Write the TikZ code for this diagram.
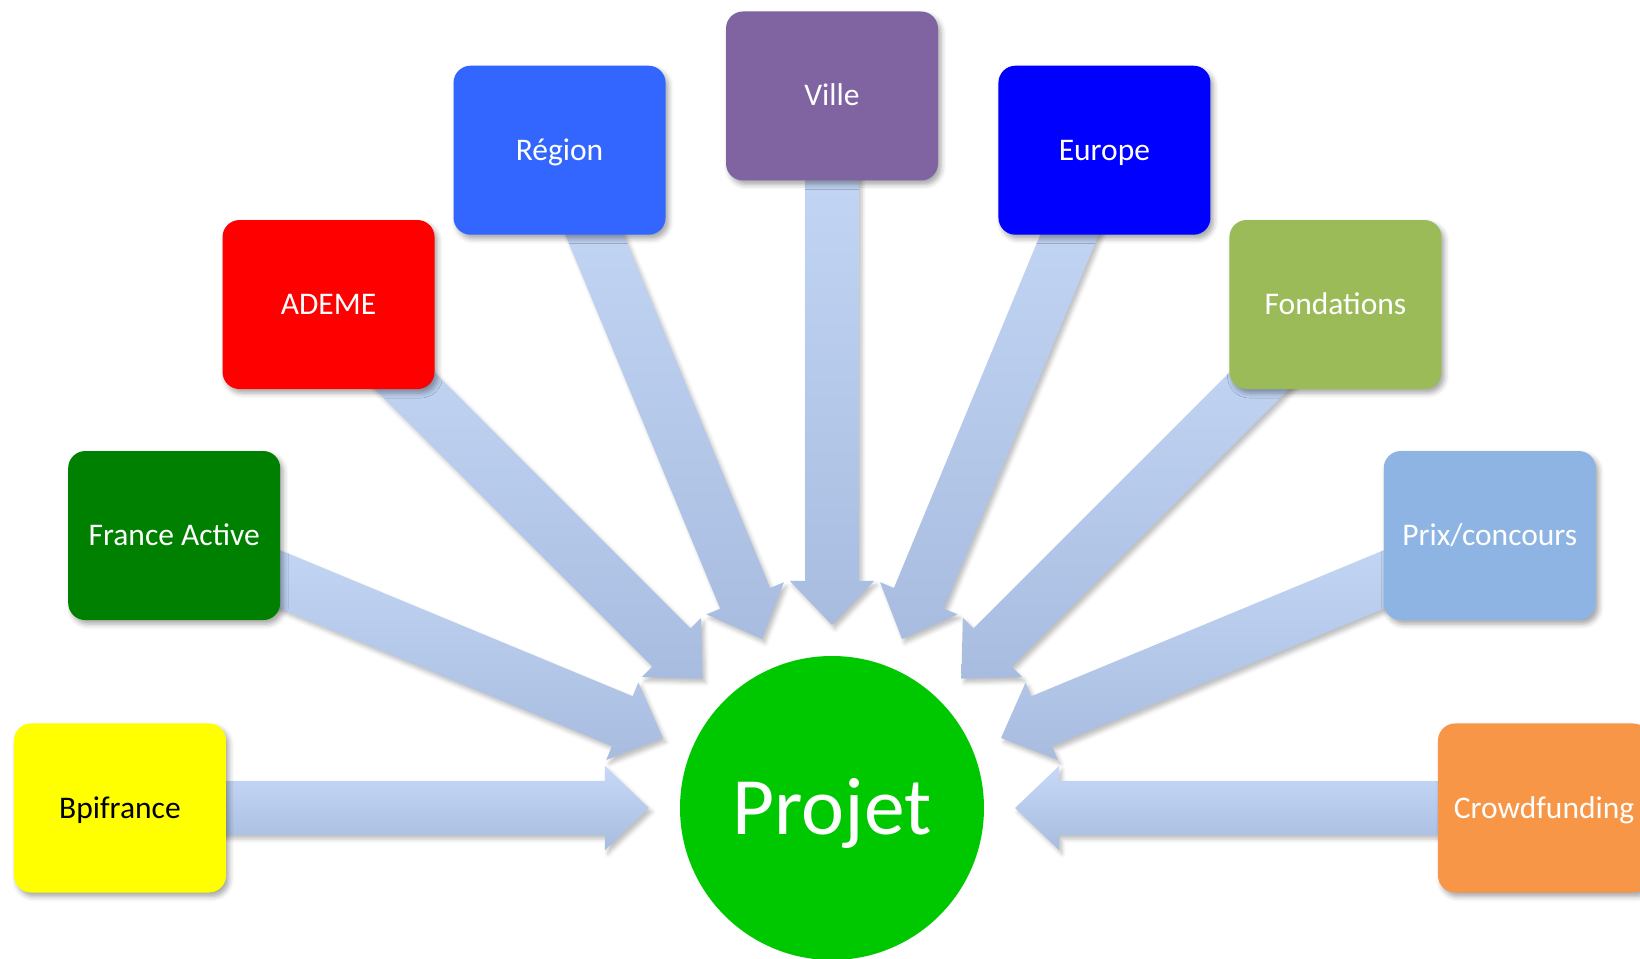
\documentclass[tikz,border=0pt]{standalone}
\usepackage{fontspec}
\setmainfont{Carlito}
\usetikzlibrary{shadows,shadows.blur}
\pgfdeclarelayer{background}
\pgfsetlayers{background,main}
\definecolor{arrlight}{RGB}{198,217,247}
\definecolor{arrdark}{RGB}{168,188,224}
\definecolor{cbpi}{RGB}{255,255,0}
\definecolor{cfa}{RGB}{0,128,0}
\definecolor{cademe}{RGB}{255,0,0}
\definecolor{cregion}{RGB}{51,102,255}
\definecolor{cville}{RGB}{128,100,162}
\definecolor{ceurope}{RGB}{0,0,255}
\definecolor{cfond}{RGB}{155,187,89}
\definecolor{cprix}{RGB}{141,180,226}
\definecolor{ccrowd}{RGB}{247,150,70}
\definecolor{cprojet}{RGB}{0,200,0}
\tikzset{
  box/.style={rounded corners=17, minimum width=212, minimum height=169,
    inner sep=0pt, text=white, font=\fontsize{31.5}{37}\selectfont,
    text height=20pt, text depth=0pt,
    blur shadow={shadow xshift=3pt, shadow yshift=-4pt,
      shadow blur radius=5pt, shadow opacity=35}},
  arrowfill/.style={top color=arrlight, bottom color=arrdark,
    blur shadow={shadow xshift=3pt, shadow yshift=-4pt,
      shadow blur radius=4pt, shadow opacity=25}},
  blockarrow/.pic={
    \path[arrowfill] (0,-27) -- (485,-27) -- (485,-42) -- (529,0)
      -- (485,42) -- (485,27) -- (0,27) -- cycle;}
}
\begin{document}
\begin{tikzpicture}[x=1pt,y=1pt]
\useasboundingbox (-832,-150) rectangle (808,808);
\clip (-832,-150) rectangle (808,808);

\node[box, fill=cbpi, text=black] (bpi) at (180:712) {Bpifrance};
\node[box, fill=cfa] (fa) at (157.5:712) {France Active};
\node[box, fill=cademe] (ademe) at (135:712) {ADEME};
\node[box, fill=cregion] (region) at (112.5:712) {Région};
\node[box, fill=cville] (ville) at (90:712) {Ville};
\node[box, fill=ceurope] (europe) at (67.5:712) {Europe};
\node[box, fill=cfond] (fond) at (45:712) {Fondations};
\node[box, fill=cprix] (prix) at (22.5:712) {Prix/concours};
\node[box, fill=ccrowd] (crowd) at (0:712) {Crowdfunding};

\node[circle, fill=cprojet, minimum size=304, inner sep=0pt, text=white,
  font=\fontsize{81.5}{97}\selectfont, text height=52pt, text depth=0pt]
  (projet) at (0,0) {Projet};

\begin{pgfonlayer}{background}
\pic[rotate=0] at (bpi.center) {blockarrow};
\pic[rotate=-22.5] at (fa.center) {blockarrow};
\pic[rotate=-45] at (ademe.center) {blockarrow};
\pic[rotate=-67.5] at (region.center) {blockarrow};
\pic[rotate=-90] at (ville.center) {blockarrow};
\pic[rotate=-112.5] at (europe.center) {blockarrow};
\pic[rotate=-135] at (fond.center) {blockarrow};
\pic[rotate=-157.5] at (prix.center) {blockarrow};
\pic[rotate=180] at (crowd.center) {blockarrow};
\end{pgfonlayer}
\end{tikzpicture}
\end{document}
